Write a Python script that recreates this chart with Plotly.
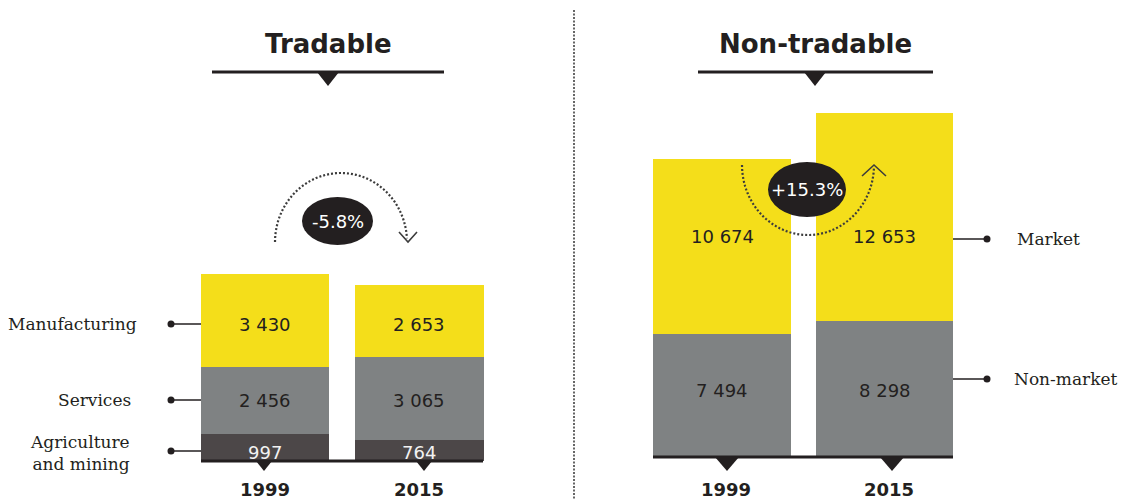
import math
import plotly.graph_objects as go

W, H = 1122, 499

# ---------------- data ----------------
years = ["1999", "2015"]
trad_labels = ["Manufacturing", "Services", "Agriculture<br>and mining"]
trad_manufacturing = [3430, 2653]
trad_services = [2456, 3065]
trad_agriculture = [997, 764]
trad_change = "-5.8%"

nontrad_labels = ["Market", "Non-market"]
nontrad_market = [10674, 12653]
nontrad_nonmarket = [7494, 8298]
nontrad_change = "+15.3%"

panel_titles = ["Tradable", "Non-tradable"]

# ---------------- style ----------------
YELLOW = "#F4DE1A"
GREY = "#7F8283"
DARK = "#4C4748"
INK = "#231F20"
DOT = "#3C3C3C"
SANS = "DejaVu Sans"
SERIF = "DejaVu Serif"

W_LEFT = 0.8285
W_RIGHT = 0.849


def fmt(v):
    return f"{v:,}".replace(",", " ")


def px(x):
    return x / W


def py(y):
    return 1 - y / H


fig = go.Figure()

# tradable (stack bottom -> top)
for vals, col in [(trad_agriculture, DARK), (trad_services, GREY), (trad_manufacturing, YELLOW)]:
    fig.add_trace(go.Bar(x=years, y=vals, marker=dict(color=col, line=dict(width=0)),
                         width=W_LEFT, xaxis="x", yaxis="y", hoverinfo="skip", showlegend=False))
# non-tradable
for vals, col in [(nontrad_nonmarket, GREY), (nontrad_market, YELLOW)]:
    fig.add_trace(go.Bar(x=years, y=vals, marker=dict(color=col, line=dict(width=0)),
                         width=W_RIGHT, xaxis="x2", yaxis="y2", hoverinfo="skip", showlegend=False))

shapes = []
annotations = []

# --- titles with underline and pointer ---
for title, cx, x0, x1 in [(panel_titles[0], 328, 212, 444), (panel_titles[1], 815, 698, 933)]:
    annotations.append(dict(text=f"<b>{title}</b>", x=px(cx), y=py(44), xref="paper", yref="paper",
                            xanchor="center", yanchor="middle", showarrow=False,
                            font=dict(family=SANS, size=26, color=INK)))
    shapes.append(dict(type="line", xref="paper", yref="paper", x0=px(x0), x1=px(x1),
                       y0=py(72), y1=py(72), line=dict(color=INK, width=3)))
    shapes.append(dict(type="path", xref="paper", yref="paper",
                       path=f"M {px(cx-11)} {py(72)} L {px(cx+11)} {py(72)} L {px(cx)} {py(86)} Z",
                       fillcolor=INK, line=dict(width=0)))

# --- dotted separator ---
shapes.append(dict(type="line", xref="paper", yref="paper", x0=px(574), x1=px(574),
                   y0=py(10), y1=py(499), line=dict(color="#666666", width=2, dash="2px,1.5px")))

# --- baselines and pointers under bars (paper coordinates, outside the plot clip) ---
for (xa, xb, ybase), tris, half, depth in [((201, 483, 461), (264, 424), 8, 10),
                                           ((653, 953, 457), (727, 892), 12, 14)]:
    shapes.append(dict(type="line", xref="paper", yref="paper", x0=px(xa), x1=px(xb),
                       y0=py(ybase), y1=py(ybase), line=dict(color=INK, width=3)))
    for tx in tris:
        shapes.append(dict(type="path", xref="paper", yref="paper",
                           path=f"M {px(tx-half)} {py(ybase)} L {px(tx+half)} {py(ybase)} "
                                f"L {px(tx)} {py(ybase+depth)} Z",
                           fillcolor=INK, line=dict(width=0)))

# --- year labels ---
for xr, dx in [("x", 0), ("x2", 4)]:
    for i, yr_lbl in enumerate(years):
        annotations.append(dict(text=f"<b>{yr_lbl}</b>", x=i, y=py(489), xref=xr, yref="paper",
                                xanchor="center", yanchor="middle", showarrow=False, xshift=dx,
                                borderpad=0, font=dict(family=SANS, size=18, color=INK)))

# --- value labels ---
left_rows = [(trad_manufacturing, 324, INK), (trad_services, 400, INK), (trad_agriculture, 452, "#F2F2F2")]
for vals, ypx, col in left_rows:
    for i, v in enumerate(vals):
        annotations.append(dict(text=fmt(v), x=i, y=py(ypx), xref="x", yref="paper",
                                xanchor="center", yanchor="middle", showarrow=False,
                                font=dict(family=SANS, size=18, color=col)))
right_rows = [(nontrad_market, 237, INK), (nontrad_nonmarket, 390, INK)]
for vals, ypx, col in right_rows:
    for i, v in enumerate(vals):
        annotations.append(dict(text=fmt(v), x=i, y=py(ypx), xref="x2", yref="paper",
                                xanchor="center", yanchor="middle", showarrow=False,
                                font=dict(family=SANS, size=18, color=col)))

# --- row labels with markers ---
for lbl, ypx, xr in zip(trad_labels, [324, 400, 451], [139, 133, 132]):
    annotations.append(dict(text=lbl, x=px(xr), y=py(ypx + (2 if "<br>" in lbl else 0)),
                            xref="paper", yref="paper", xanchor="right", yanchor="middle",
                            align="right", showarrow=False,
                            font=dict(family=SERIF, size=17, color=INK)))
    shapes.append(dict(type="line", xref="paper", yref="paper", x0=px(171), x1=px(201),
                       y0=py(ypx), y1=py(ypx), line=dict(color=INK, width=1.5)))
    shapes.append(dict(type="circle", xref="paper", yref="paper", x0=px(167.5), x1=px(174.5),
                       y0=py(ypx - 3.5), y1=py(ypx + 3.5), fillcolor=INK, line=dict(width=0)))
for lbl, ypx, xl in zip(nontrad_labels, [239, 379], [1015, 1012]):
    annotations.append(dict(text=lbl, x=px(xl), y=py(ypx), xref="paper", yref="paper",
                            xanchor="left", yanchor="middle", showarrow=False,
                            font=dict(family=SERIF, size=17, color=INK)))
    shapes.append(dict(type="line", xref="paper", yref="paper", x0=px(953), x1=px(987),
                       y0=py(ypx), y1=py(ypx), line=dict(color=INK, width=1.5)))
    shapes.append(dict(type="circle", xref="paper", yref="paper", x0=px(983.5), x1=px(990.5),
                       y0=py(ypx - 3.5), y1=py(ypx + 3.5), fillcolor=INK, line=dict(width=0)))


# --- change arcs ---
def arc_path(cx, cy, rx, ry, t0, t1, n=60):
    pts = []
    for k in range(n + 1):
        t = math.radians(t0 + (t1 - t0) * k / n)
        pts.append((cx + rx * math.cos(t), cy - ry * math.sin(t)))
    return "M " + " L ".join(f"{px(a):.5f} {py(b):.5f}" for a, b in pts)


shapes.append(dict(type="path", xref="paper", yref="paper",
                   path=arc_path(341, 242, 66, 69, 180, 3),
                   line=dict(color=DOT, width=2.2, dash="2px,2px")))
shapes.append(dict(type="path", xref="paper", yref="paper",
                   path=f"M {px(399)} {py(232)} L {px(408)} {py(242)} L {px(417)} {py(232)}",
                   line=dict(color=DOT, width=1.6)))
shapes.append(dict(type="path", xref="paper", yref="paper",
                   path=arc_path(808, 165, 66, 70, 180, 357),
                   line=dict(color=DOT, width=2.2, dash="2px,2px")))
shapes.append(dict(type="path", xref="paper", yref="paper",
                   path=f"M {px(862)} {py(176)} L {px(874)} {py(165)} L {px(886)} {py(176)}",
                   line=dict(color=DOT, width=1.6)))

# --- change bubbles ---
for txt, (x0, x1, y0, y1) in [(trad_change, (302, 373, 197, 245)), (nontrad_change, (768, 846, 162, 217))]:
    shapes.append(dict(type="circle", xref="paper", yref="paper", x0=px(x0), x1=px(x1),
                       y0=py(y1), y1=py(y0), fillcolor=INK, line=dict(width=0)))
    annotations.append(dict(text=txt, x=px((x0 + x1) / 2), y=py((y0 + y1) / 2), xref="paper", yref="paper",
                            xanchor="center", yanchor="middle", showarrow=False,
                            font=dict(family=SANS, size=18, color="white")))

axis_off = dict(showgrid=False, zeroline=False, showticklabels=False, ticks="", showline=False,
                fixedrange=True)

fig.update_layout(
    width=W, height=H, autosize=False,
    margin=dict(l=0, r=0, t=0, b=0, pad=0),
    paper_bgcolor="white", plot_bgcolor="white",
    barmode="stack", bargap=0,
    xaxis=dict(domain=[0, 0.5], range=[-1.7152, 1.9159], type="category", anchor="y", **axis_off),
    yaxis=dict(domain=[38 / H, 1], range=[0, 16967], anchor="x", **axis_off),
    xaxis2=dict(domain=[0.5, 1], range=[-0.9908, 2.4615], type="category", anchor="y2", **axis_off),
    yaxis2=dict(domain=[42 / H, 1], range=[0, 27866], anchor="x2", **axis_off),
    shapes=shapes, annotations=annotations,
    showlegend=False,
)

fig.write_html("out.html")
